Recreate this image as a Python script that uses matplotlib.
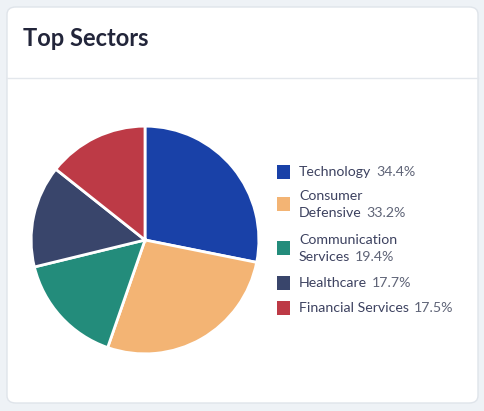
"""Top sectors pie card."""

import matplotlib

matplotlib.use("Agg")
import matplotlib.pyplot as plt
from matplotlib.patches import FancyBboxPatch, Rectangle

W, H = 485, 411

sectors = ["Technology", "Consumer\nDefensive", "Communication\nServices", "Healthcare", "Financial Services"]
weights = [34.4, 33.2, 19.4, 17.7, 17.5]
colors = ["#1941a8", "#f3b474", "#238c7b", "#39456b", "#bd3a46"]

plt.rcParams["font.family"] = ["Lato", "DejaVu Sans"]

fig = plt.figure(figsize=(W / 100, H / 100), dpi=100)
fig.patch.set_facecolor("#eef2f6")


def px(x, y):
    # pixel coords (top-left origin) -> figure fraction
    return x / W, 1 - y / H


# card background
card = FancyBboxPatch((7 / W, 1 - 403 / H), 471 / W, 396 / H,
                      boxstyle="round,pad=0,rounding_size=0.018",
                      transform=fig.transFigure, facecolor="white",
                      edgecolor="#dfe4ea", linewidth=1.0, zorder=-5)
fig.add_artist(card)
fig.add_artist(plt.Line2D([7 / W, 478 / W], [1 - 78 / H] * 2, color="#e3e7ec", linewidth=1.0, zorder=-4))

fig.text(*px(23, 39), "Top Sectors", fontsize=17, fontweight="bold", color="#22253a", va="center", ha="left")

# pie
r = 115
ax = fig.add_axes([(145 - r) / W, 1 - (240 + r) / H, 2 * r / W, 2 * r / H], zorder=2)
ax.pie(weights, colors=colors, startangle=90, counterclock=False,
       wedgeprops=dict(edgecolor="white", linewidth=2))
ax.set_xlim(-1.01, 1.01)
ax.set_ylim(-1.01, 1.01)
ax.set_aspect("equal")
ax.axis("off")

# legend
fs = 10.2
rows_y = [172, 204, 248, 283, 308]
for name, w, c, y in zip(sectors, weights, colors, rows_y):
    fig.add_artist(Rectangle(px(277, y + 7), 13 / W, 14 / H, transform=fig.transFigure,
                             facecolor=c, edgecolor="none", zorder=3))
    lines = name.split("\n")
    if len(lines) == 2:
        fig.text(*px(299, y - 8), lines[0], fontsize=fs, color="#3d4260", va="center")
        t = fig.text(*px(299, y + 9), lines[1], fontsize=fs, color="#3d4260", va="center")
    else:
        t = fig.text(*px(299, y), lines[0], fontsize=fs, color="#3d4260", va="center")
    fig.canvas.draw()
    bb = t.get_window_extent()
    fig.text((bb.x1 + 5) / W, bb.y0 / H + (bb.y1 - bb.y0) / H / 2, f"{w}%", fontsize=fs,
             color="#5f6477", va="center")

fig.savefig("out.png", dpi=100, facecolor=fig.get_facecolor())
